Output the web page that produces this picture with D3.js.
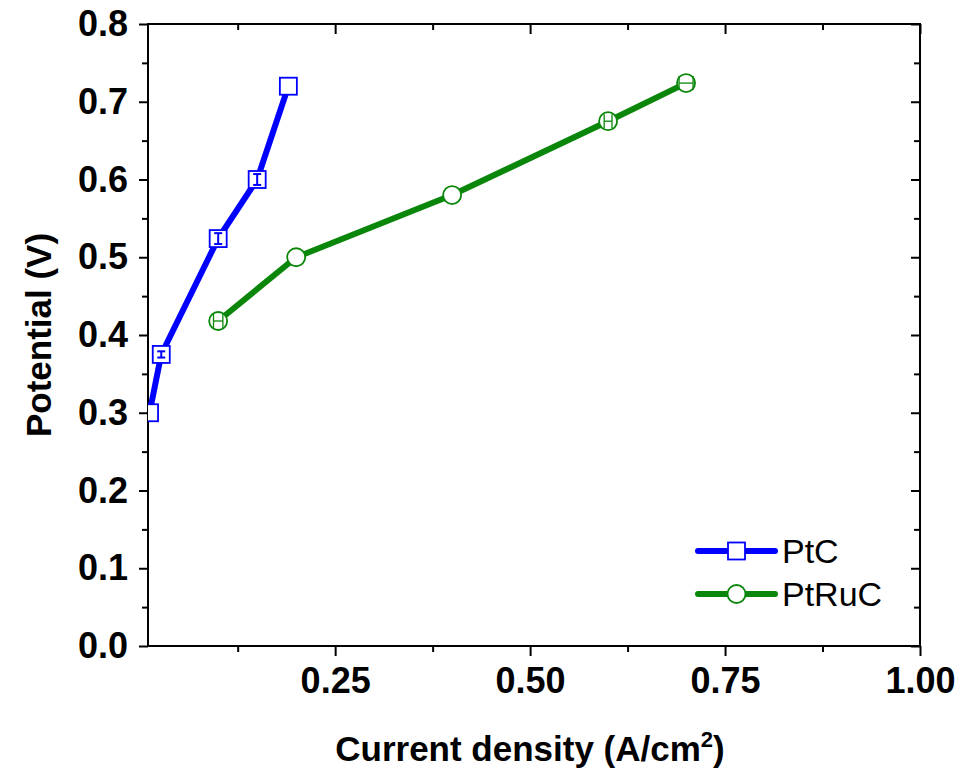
<!DOCTYPE html>
<html>
<head>
<meta charset="utf-8">
<script src="https://cdn.jsdelivr.net/npm/d3@7"></script>
<style>
  body { margin: 0; background: #fff; }
  svg { display: block; font-family: "Liberation Sans", Arial, sans-serif; }
</style>
</head>
<body>
<svg id="chart" width="966" height="769"></svg>
<script>
// data
var seriesNames = [ "PtC", "PtRuC" ];

var ptcX = [ 0.012, 0.027, 0.10, 0.15, 0.19 ];
var ptcY = [ 0.300, 0.375, 0.524, 0.600, 0.720 ];
var ptcYErr = [ 0, 0.004, 0.007, 0.007, 0 ];

var ptrucX = [ 0.10, 0.20, 0.40, 0.60, 0.70 ];
var ptrucY = [ 0.418, 0.500, 0.580, 0.675, 0.724 ];
var ptrucXErr = [ 0.006, 0, 0, 0.005, 0.009 ];

var xMajorTicks = [ 0.25, 0.50, 0.75, 1.00 ];
var xMinorTicks = [ 0.125, 0.375, 0.625, 0.875 ];
var yMajorTicks = [ 0.0, 0.1, 0.2, 0.3, 0.4, 0.5, 0.6, 0.7, 0.8 ];
var yMinorTicks = [ 0.05, 0.15, 0.25, 0.35, 0.45, 0.55, 0.65, 0.75 ];

var margin = { top: 24, right: 46, bottom: 123, left: 148 };
var svgWidth = 966;
var svgHeight = 769;
var w = svgWidth - margin.left - margin.right;
var h = svgHeight - margin.top - margin.bottom;

var blue = "#0000ff";
var green = "#0a870a";

var svg = d3.select( "#chart" );
var g = svg.append( "g" ).attr( "transform", "translate(" + margin.left + "," + margin.top + ")" );

var x = d3.scaleLinear().domain( [ 0.01, 1.0 ] ).range( [ 0, w ] );
var y = d3.scaleLinear().domain( [ 0, 0.8 ] ).range( [ h, 0 ] );

svg.append( "defs" ).append( "clipPath" ).attr( "id", "plot-clip" )
    .append( "rect" ).attr( "width", w ).attr( "height", h );

// axes: bottom + left outward, top + right inward
function styleAxis( sel ) {
    sel.select( ".domain" ).remove();
    sel.selectAll( "line" ).attr( "stroke", "#000" ).attr( "stroke-width", 2 );
}

g.append( "g" ).attr( "transform", "translate(0," + h + ")" )
    .call( d3.axisBottom( x ).tickValues( xMajorTicks ).tickSize( 10 ).tickPadding( 11 ).tickFormat( d3.format( ".2f" ) ) )
    .call( styleAxis )
    .call( function ( a ) {
        a.selectAll( "text" ).attr( "font-size", 36 ).attr( "font-weight", "bold" ).attr( "fill", "#000" );
    } );
g.append( "g" ).attr( "transform", "translate(0," + h + ")" )
    .call( d3.axisBottom( x ).tickValues( xMinorTicks ).tickSize( 6 ).tickFormat( "" ) )
    .call( styleAxis );

g.append( "g" )
    .call( d3.axisLeft( y ).tickValues( yMajorTicks ).tickSize( 9 ).tickPadding( 11 ).tickFormat( d3.format( ".1f" ) ) )
    .call( styleAxis )
    .call( function ( a ) {
        a.selectAll( "text" ).attr( "font-size", 36 ).attr( "font-weight", "bold" ).attr( "fill", "#000" );
    } );
g.append( "g" )
    .call( d3.axisLeft( y ).tickValues( yMinorTicks ).tickSize( 6 ).tickFormat( "" ) )
    .call( styleAxis );

g.append( "g" )
    .call( d3.axisTop( x ).tickValues( xMajorTicks ).tickSize( -10 ).tickFormat( "" ) )
    .call( styleAxis );
g.append( "g" )
    .call( d3.axisTop( x ).tickValues( xMinorTicks ).tickSize( -6 ).tickFormat( "" ) )
    .call( styleAxis );
g.append( "g" ).attr( "transform", "translate(" + w + ",0)" )
    .call( d3.axisRight( y ).tickValues( yMajorTicks ).tickSize( -9 ).tickFormat( "" ) )
    .call( styleAxis );
g.append( "g" ).attr( "transform", "translate(" + w + ",0)" )
    .call( d3.axisRight( y ).tickValues( yMinorTicks ).tickSize( -6 ).tickFormat( "" ) )
    .call( styleAxis );

// frame
g.append( "rect" )
    .attr( "width", w ).attr( "height", h )
    .attr( "fill", "none" ).attr( "stroke", "#000" ).attr( "stroke-width", 2 );

var plot = g.append( "g" ).attr( "clip-path", "url(#plot-clip)" );

var ptc = ptcX.map( function ( d, i ) { return { x: d, y: ptcY[ i ], ey: ptcYErr[ i ] }; } );
var ptruc = ptrucX.map( function ( d, i ) { return { x: d, y: ptrucY[ i ], ex: ptrucXErr[ i ] }; } );

var line = d3.line().x( function ( d ) { return x( d.x ); } ).y( function ( d ) { return y( d.y ); } );

plot.append( "path" ).datum( ptc ).attr( "d", line )
    .attr( "fill", "none" ).attr( "stroke", blue ).attr( "stroke-width", 6 );
plot.append( "path" ).datum( ptruc ).attr( "d", line )
    .attr( "fill", "none" ).attr( "stroke", green ).attr( "stroke-width", 6 );

// markers
var sq = 17;
plot.selectAll( ".sq" ).data( ptc ).enter().append( "rect" )
    .attr( "x", function ( d ) { return x( d.x ) - sq / 2; } )
    .attr( "y", function ( d ) { return y( d.y ) - sq / 2; } )
    .attr( "width", sq ).attr( "height", sq )
    .attr( "fill", "#fff" ).attr( "stroke", blue ).attr( "stroke-width", 1.8 );

plot.selectAll( ".circ" ).data( ptruc ).enter().append( "circle" )
    .attr( "cx", function ( d ) { return x( d.x ); } )
    .attr( "cy", function ( d ) { return y( d.y ); } )
    .attr( "r", 9 )
    .attr( "fill", "#fff" ).attr( "stroke", green ).attr( "stroke-width", 1.8 );

// error bars (vertical for PtC, horizontal for PtRuC)
ptc.filter( function ( d ) { return d.ey > 0; } ).forEach( function ( d ) {
    var cx = x( d.x );
    var eb = plot.append( "g" ).attr( "stroke", blue ).attr( "stroke-width", 2 );
    eb.append( "line" ).attr( "x1", cx ).attr( "x2", cx ).attr( "y1", y( d.y - d.ey ) ).attr( "y2", y( d.y + d.ey ) );
    [ d.y - d.ey, d.y + d.ey ].forEach( function ( v ) {
        eb.append( "line" ).attr( "x1", cx - 4 ).attr( "x2", cx + 4 ).attr( "y1", y( v ) ).attr( "y2", y( v ) );
    } );
} );

ptruc.filter( function ( d ) { return d.ex > 0; } ).forEach( function ( d ) {
    var cy = y( d.y );
    var eb = plot.append( "g" ).attr( "stroke", green ).attr( "stroke-width", 1.3 );
    eb.append( "line" ).attr( "x1", x( d.x - d.ex ) ).attr( "x2", x( d.x + d.ex ) ).attr( "y1", cy ).attr( "y2", cy );
    [ d.x - d.ex, d.x + d.ex ].forEach( function ( v ) {
        eb.append( "line" ).attr( "x1", x( v ) ).attr( "x2", x( v ) ).attr( "y1", cy - 7 ).attr( "y2", cy + 7 );
    } );
} );

// axis titles
var xt = svg.append( "text" )
    .attr( "x", margin.left + w / 2 - 4 ).attr( "y", 761 )
    .attr( "text-anchor", "middle" ).attr( "font-size", 35 ).attr( "font-weight", "bold" );
xt.append( "tspan" ).text( "Current density (A/cm" );
xt.append( "tspan" ).attr( "font-size", 22 ).attr( "dy", -14 ).text( "2" );
xt.append( "tspan" ).attr( "dy", 14 ).text( ")" );

svg.append( "text" )
    .attr( "transform", "translate(51," + ( margin.top + 311 ) + ") rotate(-90)" )
    .attr( "text-anchor", "middle" ).attr( "font-size", 35 ).attr( "font-weight", "bold" )
    .text( "Potential (V)" );

// legend
var legendColors = [ blue, green ];
var legend = svg.append( "g" ).attr( "transform", "translate(698,551)" );
seriesNames.forEach( function ( name, i ) {
    var row = legend.append( "g" ).attr( "transform", "translate(0," + i * 43 + ")" );
    row.append( "line" ).attr( "x1", 0 ).attr( "x2", 77 ).attr( "y1", 0 ).attr( "y2", 0 )
        .attr( "stroke", legendColors[ i ] ).attr( "stroke-width", 6 ).attr( "stroke-linecap", "round" );
    if ( i === 0 ) {
        row.append( "rect" ).attr( "x", 38.5 - sq / 2 ).attr( "y", -sq / 2 ).attr( "width", sq ).attr( "height", sq )
            .attr( "fill", "#fff" ).attr( "stroke", blue ).attr( "stroke-width", 1.8 );
    } else {
        row.append( "circle" ).attr( "cx", 38.5 ).attr( "r", 9 )
            .attr( "fill", "#fff" ).attr( "stroke", green ).attr( "stroke-width", 1.8 );
    }
    row.append( "text" ).attr( "x", 84 ).attr( "y", 12 ).attr( "font-size", 34 ).text( name );
} );
</script>
</body>
</html>
